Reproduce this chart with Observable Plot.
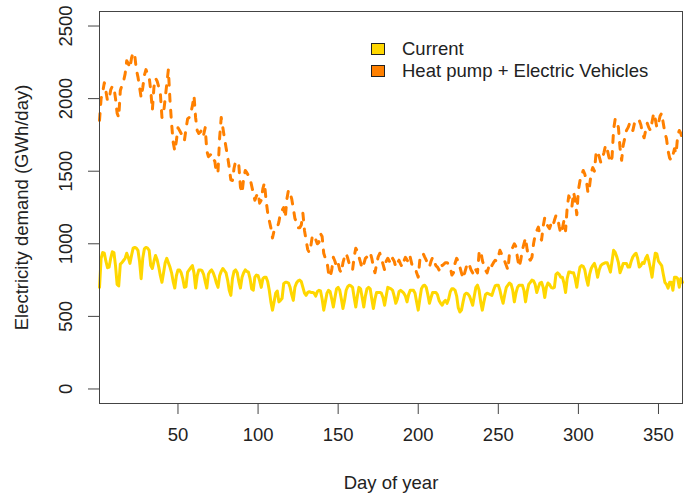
<!DOCTYPE html>
<html><head><meta charset="utf-8">
<script src="https://cdn.jsdelivr.net/npm/d3@7"></script>
<script src="https://cdn.jsdelivr.net/npm/@observablehq/plot@0.6"></script>
<style>
body{margin:0;background:#fff;font-family:"Liberation Sans",Arial,sans-serif;}
#wrap{position:relative;width:687px;height:495px;overflow:hidden;}
#legend{position:absolute;left:371px;top:38px;font-size:18.5px;color:#222;line-height:22px;}
.item{display:flex;align-items:center;height:22px;}
.sw{width:12px;height:10px;border:1px solid #222;margin-right:17px;box-sizing:content-box;}
</style></head><body><div id="wrap"></div>
<script>
// Daily electricity demand (GWh/day), day 1..365
const current = [
700,900,940,935,880,835,840,
900,945,940,850,720,710,860,
870,885,900,935,905,865,920,
970,975,970,955,880,760,900,
965,975,970,955,850,830,880,
920,890,840,780,735,800,870,
900,870,840,800,740,695,780,
820,820,800,760,700,705,805,
820,835,850,800,695,780,820,
820,815,790,740,695,790,810,
820,800,770,730,700,780,810,
830,815,800,750,680,645,760,
810,820,800,740,695,770,800,
820,810,805,760,690,680,770,
785,780,745,700,760,770,770,
740,680,600,543,600,660,675,
600,610,625,725,735,735,730,
700,650,610,700,730,745,750,
740,700,660,645,665,670,665,
665,660,640,670,680,675,620,
543,600,660,680,670,620,565,
630,690,700,680,620,555,610,
680,705,715,710,700,630,565,
640,700,690,630,565,640,690,
700,690,620,555,620,665,665,
665,660,630,577,640,700,695,
690,680,640,590,620,670,680,
670,660,640,600,650,680,680,
680,660,600,543,620,690,710,
715,700,650,590,630,665,665,
665,650,610,590,577,600,610,
590,620,670,690,690,680,640,
560,530,543,600,650,660,655,
640,610,577,640,700,715,680,
600,543,600,650,660,655,650,
645,680,710,715,715,680,630,
590,650,700,715,730,720,680,
600,660,700,715,715,715,680,
600,670,720,735,750,745,720,
665,700,730,735,700,630,700,
730,720,700,695,700,790,800,
790,770,770,730,665,760,805,
805,800,800,760,700,780,840,
850,845,820,760,715,790,830,
850,865,830,770,820,850,860,
865,870,870,840,805,880,955,
940,910,870,800,830,865,865,
865,840,840,880,910,925,935,
900,840,850,870,865,900,920,
880,830,770,860,935,930,880,
865,850,790,735,720,695,735,
735,680,770,770,760,700,760,735
];
const heatPumpEV = [
1850,2000,2045,2110,2050,1985,2000,
2060,2085,2080,2000,1900,1870,2056,
2090,2120,2170,2261,2240,2210,2280,
2318,2300,2200,2150,2080,2007,2075,
2160,2200,2170,2150,2055,1920,2080,
2140,2120,2080,2035,1870,1900,2000,
2100,2200,1990,1830,1700,1640,1710,
1800,1780,1760,1740,1710,1790,1860,
1870,1900,1950,2020,1870,1780,1760,
1770,1790,1750,1800,1640,1600,1610,
1620,1580,1570,1485,1500,1730,1870,
1800,1730,1663,1600,1525,1440,1436,
1520,1570,1560,1540,1390,1350,1450,
1505,1490,1470,1450,1400,1350,1300,
1330,1350,1280,1300,1380,1420,1300,
1215,1160,1110,1040,1090,1100,1110,
1150,1215,1230,1250,1180,1310,1370,
1350,1310,1245,1175,1150,1110,1110,
1130,1210,1090,1025,960,940,990,
1060,1040,1030,1000,1010,1070,1050,
935,900,880,800,770,820,907,
880,840,866,820,800,870,910,
935,900,860,840,820,910,970,
950,910,870,830,860,900,910,
930,940,900,840,800,860,910,
935,900,860,820,880,900,880,
860,900,880,840,870,887,860,
840,880,907,890,866,907,860,
850,840,800,770,887,900,935,
910,887,860,840,880,907,880,
850,840,820,866,850,860,870,
870,860,840,785,800,866,900,
880,840,800,760,800,840,870,
850,820,800,840,820,800,935,
955,887,850,820,800,840,820,
850,870,887,880,910,955,930,
910,880,850,820,935,960,975,
1000,980,900,840,887,955,1000,
1040,960,900,887,907,1000,1060,
1090,1115,1060,1025,1120,1180,1140,
1120,1105,1140,1120,1160,1195,1180,
1120,1070,1105,1160,1090,1250,1330,
1300,1260,1355,1300,1200,1370,1435,
1470,1505,1480,1435,1350,1400,1490,
1525,1500,1620,1640,1600,1560,1590,
1630,1680,1650,1600,1560,1595,1790,
1860,1850,1800,1660,1575,1680,1730,
1780,1800,1830,1800,1780,1830,1850,
1840,1850,1820,1760,1730,1780,1830,
1800,1780,1840,1900,1860,1800,1830,
1880,1900,1830,1765,1725,1640,1590,
1575,1610,1655,1620,1745,1780,1760,1710
];
const seriesNames = ["Current", "Heat pump + Electric Vehicles"];
const seriesColors = ["#FFD700", "#FF8000"];
const xTicks = [50, 100, 150, 200, 250, 300, 350];
const yTicks = [0, 500, 1000, 1500, 2000, 2500];
const xTitle = "Day of year";
const yTitle = "Electricity demand (GWh/day)";

const days = current.map((_, i) => i + 1);
const rows = [
  ...current.map((v, i) => ({day: days[i], value: v, series: seriesNames[0]})),
  ...heatPumpEV.map((v, i) => ({day: days[i], value: v, series: seriesNames[1]}))
];

const chart = Plot.plot({
  width: 687, height: 495,
  marginLeft: 99, marginRight: 5, marginTop: 11, marginBottom: 92,
  style: {fontFamily: "'Liberation Sans', Arial, sans-serif", fontSize: "18.5px", color: "#222", background: "white"},
  x: {domain: [1, 365]},
  y: {domain: [-100, 2600]},
  marks: [
    Plot.axisX({ticks: xTicks, tickSize: 11, tickPadding: 13, tickFormat: d => String(d), label: xTitle, labelAnchor: "center", labelOffset: 85, labelArrow: "none", stroke: "#444"}),
    Plot.axisY({ticks: yTicks, tickSize: 11, tickRotate: -90, tickPadding: 17, tickFormat: d => String(d), label: yTitle, labelAnchor: "center", labelOffset: 85, labelArrow: "none", stroke: "#444"}),
    Plot.line(rows.filter(d => d.series === seriesNames[0]), {x: "day", y: "value", stroke: seriesColors[0], strokeWidth: 3}),
    Plot.line(rows.filter(d => d.series === seriesNames[1]), {x: "day", y: "value", stroke: seriesColors[1], strokeWidth: 3, strokeDasharray: "7,9"}),
    Plot.frame({stroke: "#444"})
  ]
});
const wrap = document.getElementById("wrap");
wrap.appendChild(chart);
const legend = document.createElement("div");
legend.id = "legend";
seriesNames.forEach((name, i) => {
  const it = document.createElement("div");
  it.className = "item";
  const sw = document.createElement("span");
  sw.className = "sw";
  sw.style.background = seriesColors[i];
  const tx = document.createElement("span");
  tx.textContent = name;
  it.appendChild(sw); it.appendChild(tx);
  legend.appendChild(it);
});
wrap.appendChild(legend);
</script></body></html>
